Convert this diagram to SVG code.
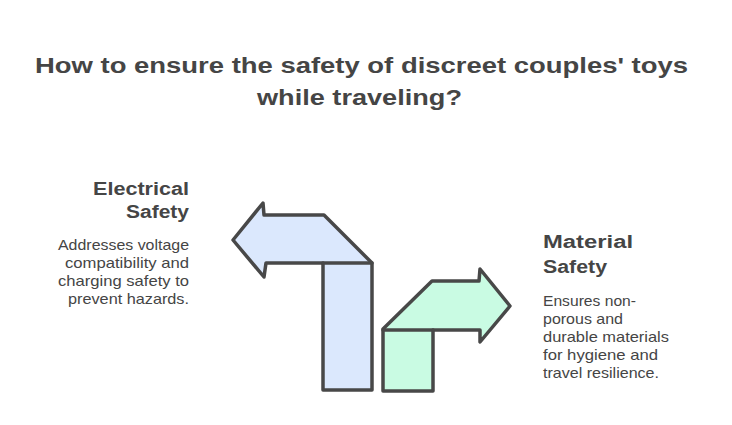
<svg xmlns="http://www.w3.org/2000/svg" width="732" height="425" viewBox="0 0 732 425">
<style>
.t{font-family:"Liberation Sans",Arial,sans-serif;fill:#454545}
.title{font-size:22.5px;font-weight:bold;text-anchor:middle}
.h{font-size:18px;font-weight:bold}
.d{font-size:14.5px}
.arrow{stroke:#484848;stroke-width:3.5;stroke-linejoin:round;stroke-linecap:round}
</style>
<rect width="732" height="425" fill="#ffffff"/>
<g id="title">
<text class="t title" x="361.5" y="73" textLength="653" lengthAdjust="spacingAndGlyphs">How to ensure the safety of discreet couples' toys</text>
<text class="t title" x="359.5" y="105" textLength="205" lengthAdjust="spacingAndGlyphs">while traveling?</text>
</g>
<g id="connectors"></g>
<g id="electrical-arrow">
<polygon class="arrow" fill="#dbe8fd" points="233,240 263,203 264,215 324,215 372,263 372,390 323,390 323,263 266,263 264,277"/>
<line class="arrow" x1="323" y1="263" x2="372" y2="263"/>
</g>
<g id="material-arrow">
<polygon class="arrow" fill="#c9fbe3" points="383,329 432,281 479,281 480,269 510,306 480,342 480,330 433,330 433,391 383,391"/>
<line class="arrow" x1="383" y1="330" x2="433" y2="330"/>
</g>
<g id="electrical-safety" text-anchor="end">
<text class="t h" x="189" y="195" textLength="96" lengthAdjust="spacingAndGlyphs">Electrical</text>
<text class="t h" x="189" y="218" textLength="63" lengthAdjust="spacingAndGlyphs">Safety</text>
<text class="t d" x="189" y="250" textLength="131" lengthAdjust="spacingAndGlyphs">Addresses voltage</text>
<text class="t d" x="189" y="268" textLength="124" lengthAdjust="spacingAndGlyphs">compatibility and</text>
<text class="t d" x="189" y="286" textLength="131" lengthAdjust="spacingAndGlyphs">charging safety to</text>
<text class="t d" x="189" y="304" textLength="121" lengthAdjust="spacingAndGlyphs">prevent hazards.</text>
</g>
<g id="material-safety">
<text class="t h" x="543" y="248" textLength="90" lengthAdjust="spacingAndGlyphs">Material</text>
<text class="t h" x="543" y="273" textLength="64" lengthAdjust="spacingAndGlyphs">Safety</text>
<text class="t d" x="543" y="306" textLength="93" lengthAdjust="spacingAndGlyphs">Ensures non-</text>
<text class="t d" x="543" y="324" textLength="80" lengthAdjust="spacingAndGlyphs">porous and</text>
<text class="t d" x="543" y="342" textLength="126" lengthAdjust="spacingAndGlyphs">durable materials</text>
<text class="t d" x="543" y="360" textLength="115" lengthAdjust="spacingAndGlyphs">for hygiene and</text>
<text class="t d" x="543" y="378" textLength="116" lengthAdjust="spacingAndGlyphs">travel resilience.</text>
</g>
</svg>
